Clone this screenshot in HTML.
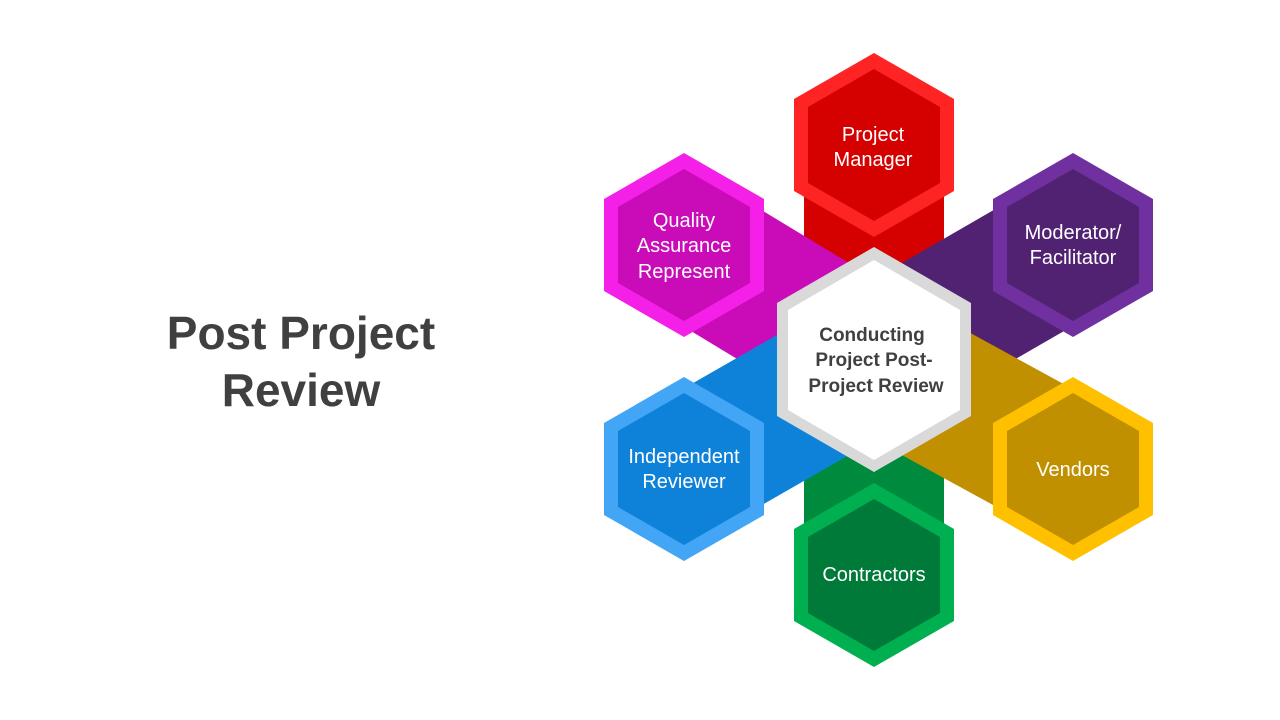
<!DOCTYPE html>
<html><head><meta charset="utf-8"><style>
html,body{margin:0;padding:0;background:#fff;width:1280px;height:720px;overflow:hidden}
svg{display:block}
</style></head><body>
<svg width="1280" height="720" viewBox="0 0 1280 720" xmlns="http://www.w3.org/2000/svg" font-family="Liberation Sans, sans-serif">
<text x="301" y="349" text-anchor="middle" font-size="46" font-weight="bold" fill="#404040">Post Project</text>
<text x="301" y="406" text-anchor="middle" font-size="46" font-weight="bold" fill="#404040">Review</text>
<g stroke-linecap="butt">
<line x1="874" y1="360" x2="874" y2="145" stroke="#d50000" stroke-width="140"/>
<line x1="874" y1="360" x2="874" y2="575" stroke="#008a3e" stroke-width="140"/>
<line x1="874" y1="360" x2="684" y2="245" stroke="#c90bb8" stroke-width="140"/>
<line x1="874" y1="360" x2="1073" y2="245" stroke="#512272" stroke-width="140"/>
<line x1="874" y1="360" x2="684" y2="469" stroke="#0e82d9" stroke-width="140"/>
<line x1="874" y1="360" x2="1073" y2="469" stroke="#c09000" stroke-width="140"/>
</g>
<!-- Project Manager -->
<polygon points="874,53 954,99 954,191 874,237 794,191 794,99" fill="#ff2424"/>
<polygon points="874,69 940,107 940,183 874,221 808,183 808,107" fill="#d50000"/>
<!-- Quality -->
<polygon points="684,153 764,199 764,291 684,337 604,291 604,199" fill="#f520e8"/>
<polygon points="684,169 750,207 750,283 684,321 618,283 618,207" fill="#c90bb8"/>
<!-- Moderator -->
<polygon points="1073,153 1153,199 1153,291 1073,337 993,291 993,199" fill="#7030a0"/>
<polygon points="1073,169 1139,207 1139,283 1073,321 1007,283 1007,207" fill="#512272"/>
<!-- Independent -->
<polygon points="684,377 764,423 764,515 684,561 604,515 604,423" fill="#42a5f5"/>
<polygon points="684,393 750,431 750,507 684,545 618,507 618,431" fill="#0e82d9"/>
<!-- Vendors -->
<polygon points="1073,377 1153,423 1153,515 1073,561 993,515 993,423" fill="#ffc000"/>
<polygon points="1073,393 1139,431 1139,507 1073,545 1007,507 1007,431" fill="#c09000"/>
<!-- Contractors -->
<polygon points="874,483 954,529 954,621 874,667 794,621 794,529" fill="#00b050"/>
<polygon points="874,499 940,537 940,613 874,651 808,613 808,537" fill="#007a38"/>
<!-- Center -->
<polygon points="874,247 971,303 971,416 874,472 777,416 777,303" fill="#d9d9d9"/>
<polygon points="874,260 960,310 960,410 874,460 788,410 788,310" fill="#ffffff"/>
<g fill="#fff" font-size="20" text-anchor="middle">
<text x="873" y="141">Project</text><text x="873" y="166">Manager</text>
<text x="684" y="227">Quality</text><text x="684" y="252">Assurance</text><text x="684" y="278">Represent</text>
<text x="1073" y="239">Moderator/</text><text x="1073" y="264">Facilitator</text>
<text x="684" y="463">Independent</text><text x="684" y="488">Reviewer</text>
<text x="1073" y="476">Vendors</text>
<text x="874" y="581">Contractors</text>
</g>
<g fill="#404040" font-size="19" font-weight="bold" text-anchor="middle">
<text x="872" y="341">Conducting</text><text x="874" y="366">Project Post-</text><text x="876" y="392">Project Review</text>
</g>
</svg>
</body></html>
